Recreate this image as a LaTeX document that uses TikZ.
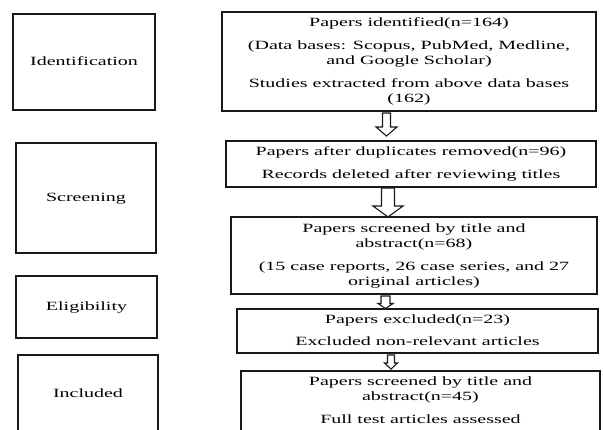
\documentclass[tikz,border=0pt]{standalone}
\usepackage{graphicx}
\usepackage{fontspec}
\setmainfont{Liberation Serif}
\usetikzlibrary{calc}
\tikzset{
  stage/.style={draw=black!90, line width=1.6pt, inner sep=0pt, outer sep=0pt,
    font=\fontsize{12.6}{15}\selectfont},
  stepbox/.style={draw=black!90, line width=1.3pt, inner sep=0pt, outer sep=0pt,
    font=\fontsize{12.6}{15}\selectfont},
  harrowline/.style={draw=black!90, line width=1.1pt, fill=white, line join=miter}
}
\newcommand\stx[1]{\scalebox{1.587}[1]{\begin{tabular}{@{}c@{}}#1\end{tabular}}}
% #1 from node, #2 to node, #3 x centre, #4 shaft half width, #5 head half width,
% #6 head length, #7 gap below source, #8 gap above target
\newcommand\harrow[8]{\draw[harrowline] let \p1=(#1.south), \p2=(#2.north) in
  ({(#3-#4)*1pt},{\y1-#7pt}) -- ({(#3-#4)*1pt},{\y2+#8pt+#6pt})
  -- ({(#3-#5)*1pt},{\y2+#8pt+#6pt}) -- ({#3*1pt},{\y2+#8pt})
  -- ({(#3+#5)*1pt},{\y2+#8pt+#6pt}) -- ({(#3+#4)*1pt},{\y2+#8pt+#6pt})
  -- ({(#3+#4)*1pt},{\y1-#7pt}) -- cycle;}
\begin{document}
\begin{tikzpicture}[x=1pt,y=-1pt]
\clip (0,0) rectangle (603,429);
\fill[white] (0,0) rectangle (603,429);

% stage boxes
\node[stage, minimum width=142, minimum height=96] (L1) at (84,62)
  {\raisebox{3pt}{\stx{Identification}}};
\node[stage, minimum width=140, minimum height=110] (L2) at (86,198)
  {\raisebox{4pt}{\stx{Screening}}};
\node[stage, minimum width=141, minimum height=62] (L3) at (86.5,307)
  {\raisebox{2pt}{\stx{Eligibility}}};
\node[stage, minimum width=140, minimum height=78] (L4) at (88,394)
  {\raisebox{4pt}{\stx{Included}}};

% flow boxes
\node[stepbox, minimum width=374, minimum height=99] (b1) at (409,61.5)
  {\stx{Papers identified(n=164)\\[8pt]
        (Data bases: Scopus, PubMed, Medline,\\ and Google Scholar)\\[8pt]
        Studies extracted from above data bases\\ (162)}};
\node[stepbox, minimum width=370, minimum height=46] (b2) at (411,164)
  {\stx{Papers after duplicates removed(n=96)\\[8pt]
        Records deleted after reviewing titles}};
\node[stepbox, minimum width=366, minimum height=77] (b3) at (414,255.5)
  {\stx{Papers screened by title and\\ abstract(n=68)\\[8pt]
        (15 case reports, 26 case series, and 27\\ original articles)}};
\node[stepbox, minimum width=361, minimum height=44] (b4) at (417.5,331)
  {\raisebox{-2pt}{\stx{Papers excluded(n=23)\\[7pt]
        Excluded non-relevant articles}}};
\node[stepbox, minimum width=359, minimum height=60] (b5) at (420.5,401)
  {\stx{Papers screened by title and\\ abstract(n=45)\\[8pt]
        Full test articles assessed}};

% hollow arrows
\harrow{b1}{b2}{386.5}{4}{10.5}{9}{2}{5}
\harrow{b2}{b3}{388}{6.5}{15}{11}{1}{0}
\harrow{b3}{b4}{385.5}{4.5}{7.5}{5}{2}{0.5}
\harrow{b4}{b5}{391}{3.5}{6.5}{6}{2}{2}
\end{tikzpicture}
\end{document}
